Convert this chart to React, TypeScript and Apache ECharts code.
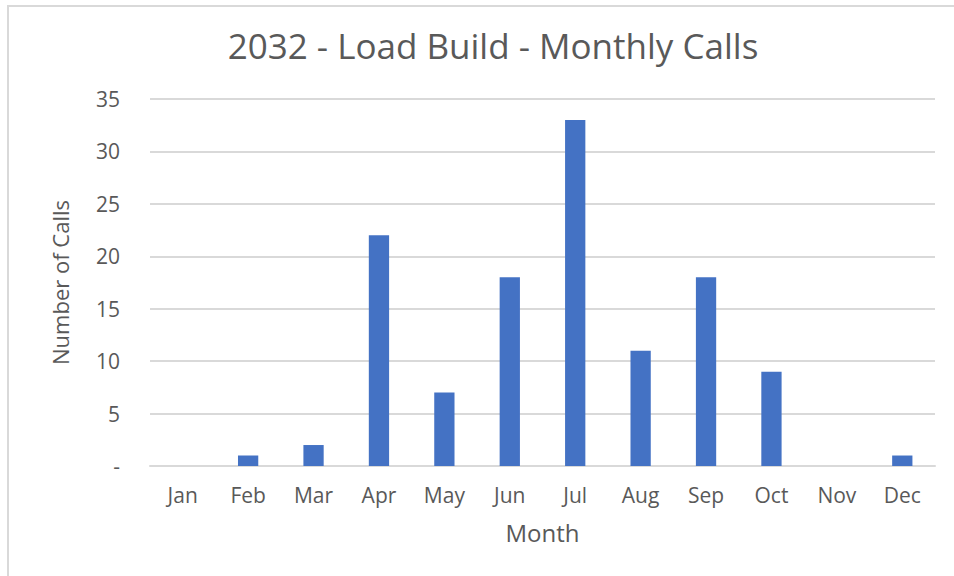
import React, { useEffect, useRef } from "react";
import * as echarts from "echarts";

const months = ["Jan", "Feb", "Mar", "Apr", "May", "Jun", "Jul", "Aug", "Sep", "Oct", "Nov", "Dec"];
const calls = [0, 1, 2, 22, 7, 18, 33, 11, 18, 9, 0, 1];
const titleText = "2032 - Load Build - Monthly Calls";
const xTitle = "Month";
const yTitle = "Number of Calls";

export default function App() {
  const ref = useRef<HTMLDivElement>(null);
  useEffect(() => {
    document.body.style.margin = "0";
    const chart = echarts.init(ref.current!, null, { renderer: "svg" });
    const font = "'Open Sans', 'Noto Sans', sans-serif";
    chart.setOption({
      animation: false,
      backgroundColor: "#ffffff",
      textStyle: { fontFamily: font },
      title: {
        text: titleText,
        left: 488,
        textAlign: "center",
        top: 23,
        textStyle: { fontFamily: font, fontSize: 35, fontWeight: "normal", color: "#595959" },
      },
      graphic: [
        {
          type: "rect",
          shape: { x: 8, y: 6, width: 1000, height: 700 },
          style: { fill: "none", stroke: "#d9d9d9", lineWidth: 2 },
          silent: true,
        },
      ],
      grid: { left: 150, right: 19, top: 99, bottom: 110 },
      xAxis: {
        type: "category",
        data: months,
        name: xTitle,
        nameLocation: "middle",
        nameGap: 54,
        nameTextStyle: { fontFamily: font, fontSize: 24, color: "#595959" },
        axisLine: { lineStyle: { color: "#d9d9d9", width: 2 } },
        axisTick: { show: false },
        axisLabel: { fontFamily: font, fontSize: 21, color: "#595959", margin: 18 },
      },
      yAxis: {
        type: "value",
        min: 0,
        max: 35,
        interval: 5,
        name: yTitle,
        nameLocation: "middle",
        nameGap: 79,
        nameTextStyle: { fontFamily: font, fontSize: 22, color: "#595959" },
        axisLine: { show: false },
        axisTick: { show: false },
        splitLine: { lineStyle: { color: "#d9d9d9", width: 2 } },
        axisLabel: {
          fontFamily: font,
          fontSize: 21,
          color: "#595959",
          margin: 30,
          formatter: (v: number) => (v === 0 ? "-" : String(v)),
        },
      },
      series: [
        {
          type: "bar",
          data: calls,
          barWidth: "31%",
          itemStyle: { color: "#4472c4" },
        },
      ],
    });
    return () => chart.dispose();
  }, []);
  return <div ref={ref} style={{ width: 954, height: 576 }} />;
}
